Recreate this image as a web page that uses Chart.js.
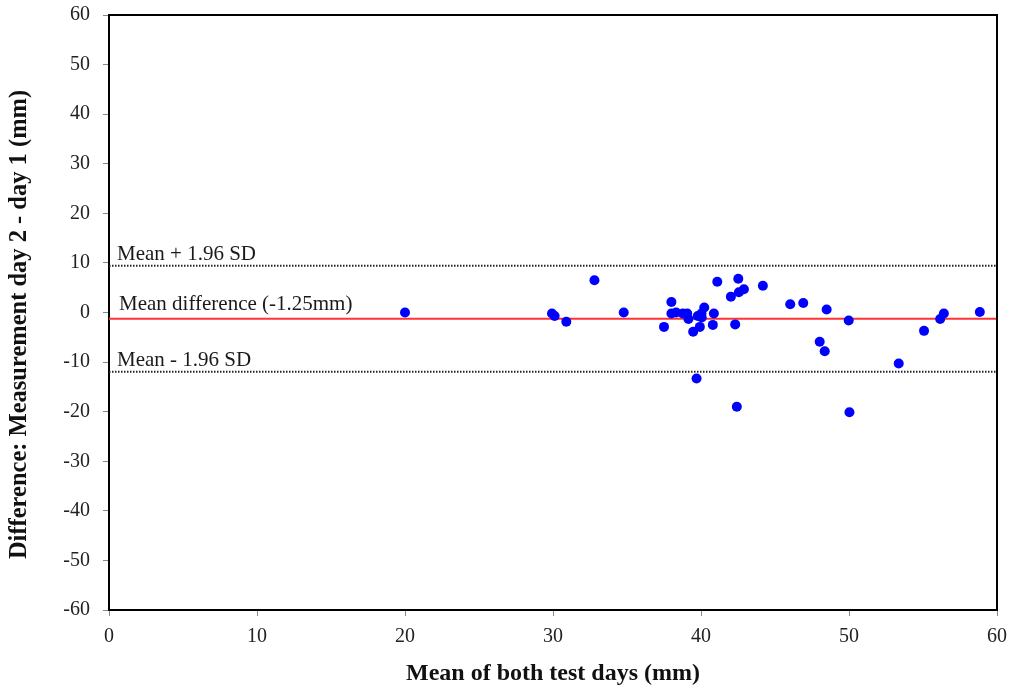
<!DOCTYPE html>
<html>
<head>
<meta charset="utf-8">
<script src="https://cdn.jsdelivr.net/npm/chart.js@4/dist/chart.umd.min.js"></script>
<style>
  html, body { margin: 0; padding: 0; background: #fff; }
  #wrap { width: 1011px; height: 688px; position: relative; }
</style>
</head>
<body>
<div id="wrap"><canvas id="c" width="1011" height="688"></canvas></div>
<script>
// Mean of both test days (mm)
const xMeans = [20.0, 29.93, 30.11, 30.9, 32.8, 34.78, 37.5, 38.0, 38.0, 38.32, 38.77, 39.07, 39.15, 39.47,
  39.7, 39.92, 39.78, 40.03, 40.05, 40.22, 40.8, 40.87, 41.1, 42.02, 42.31, 42.42, 42.52, 42.56, 42.9, 44.18,
  46.03, 46.91, 48.02, 48.36, 48.49, 49.98, 50.03, 53.36, 55.07, 56.16, 56.41, 58.84];
// Difference: day 2 - day 1 (mm)
const yDiffs = [0.0, -0.2, -0.7, -1.85, 6.5, 0.0, -2.9, 2.1, -0.2, 0.0, -0.2, -0.2, -1.3, -3.9,
  -13.3, -2.9, -0.7, -0.2, -1.0, 1.0, -2.5, -0.2, 6.2, 3.2, -2.4, -19.0, 6.8, 4.1, 4.7, 5.4,
  1.65, 1.9, -5.9, -7.8, 0.6, -1.6, -20.1, -10.3, -3.7, -1.3, -0.2, 0.1];
const meanDiff = -1.25;
const upperLoA = 9.44;
const lowerLoA = -11.94;
const xRange = [0, 60];
const yRange = [-60, 60];
const refLabels = ["Mean + 1.96 SD", "Mean difference (-1.25mm)", "Mean - 1.96 SD"];
const yTitle = 'Difference: Measurement day 2 - day 1 (mm)';
const xTitle = 'Mean of both test days (mm)';

const points = xMeans.map((x, i) => ({ x: x, y: yDiffs[i] }));
const hline = v => [{ x: xRange[0], y: v }, { x: xRange[1], y: v }];

const serif = "'Liberation Serif', 'Times New Roman', serif";

const boxAndLabels = {
  id: 'boxAndLabels',
  afterDatasetsDraw(chart) {
    const { ctx, chartArea: a, scales } = chart;
    ctx.save();
    ctx.strokeStyle = '#000';
    ctx.lineWidth = 2;
    ctx.beginPath();
    ctx.moveTo(a.left, a.top);
    ctx.lineTo(a.right, a.top);
    ctx.lineTo(a.right, a.bottom);
    ctx.stroke();
    ctx.fillStyle = '#1a1a1a';
    ctx.font = '21px ' + serif;
    ctx.textAlign = 'left';
    ctx.textBaseline = 'alphabetic';
    const y = scales.y;
    ctx.fillText(refLabels[0], a.left + 8, y.getPixelForValue(upperLoA) - 6);
    ctx.fillText(refLabels[1], a.left + 10, y.getPixelForValue(meanDiff) - 9);
    ctx.fillText(refLabels[2], a.left + 8, y.getPixelForValue(lowerLoA) - 6);
    // y-axis title (rotated)
    ctx.save();
    ctx.translate(20, (a.top + a.bottom) / 2 + 12);
    ctx.rotate(-Math.PI / 2);
    ctx.font = 'bold 24.5px ' + serif;
    ctx.fillStyle = '#111';
    ctx.textAlign = 'center';
    ctx.textBaseline = 'middle';
    ctx.fillText(yTitle, 0, 0);
    ctx.restore();
    ctx.restore();
  }
};

new Chart(document.getElementById('c'), {
  type: 'scatter',
  data: {
    datasets: [
      { data: points, backgroundColor: '#0000ff', borderColor: '#0000ff', pointRadius: 5, pointHoverRadius: 5, borderWidth: 0 },
      { type: 'line', data: hline(meanDiff), borderColor: '#ff3333', borderWidth: 2, pointRadius: 0, fill: false },
      { type: 'line', data: hline(upperLoA), borderColor: '#222', borderWidth: 2, borderDash: [1.5, 1.5], pointRadius: 0, fill: false },
      { type: 'line', data: hline(lowerLoA), borderColor: '#222', borderWidth: 2, borderDash: [1.5, 1.5], pointRadius: 0, fill: false }
    ]
  },
  options: {
    responsive: false,
    animation: false,
    events: [],
    layout: { padding: { left: 0, right: 14, top: 15, bottom: 0 } },
    plugins: { legend: { display: false }, tooltip: { enabled: false } },
    scales: {
      x: {
        type: 'linear', min: xRange[0], max: xRange[1],
        ticks: { stepSize: 10, color: '#222', font: { family: serif, size: 20 }, padding: 9 },
        grid: { drawOnChartArea: false, drawTicks: true, tickLength: 6, color: '#888' },
        border: { display: true, color: '#000', width: 2 },
        title: { display: true, text: xTitle, color: '#111', font: { family: serif, size: 24, weight: 'bold' }, padding: { top: 0, bottom: 0 } },
        afterFit(s) { s.height = 78; s.paddingLeft = 0; s.paddingRight = 0; }
      },
      y: {
        type: 'linear', min: yRange[0], max: yRange[1],
        ticks: { stepSize: 10, color: '#222', font: { family: serif, size: 20 }, padding: 13 },
        grid: { drawOnChartArea: false, drawTicks: true, tickLength: 6, color: '#888' },
        border: { display: true, color: '#000', width: 2 },
        title: { display: false },
        afterFit(s) { s.width = 109; s.paddingTop = 0; s.paddingBottom = 0; }
      }
    }
  },
  plugins: [boxAndLabels]
});
</script>
</body>
</html>
